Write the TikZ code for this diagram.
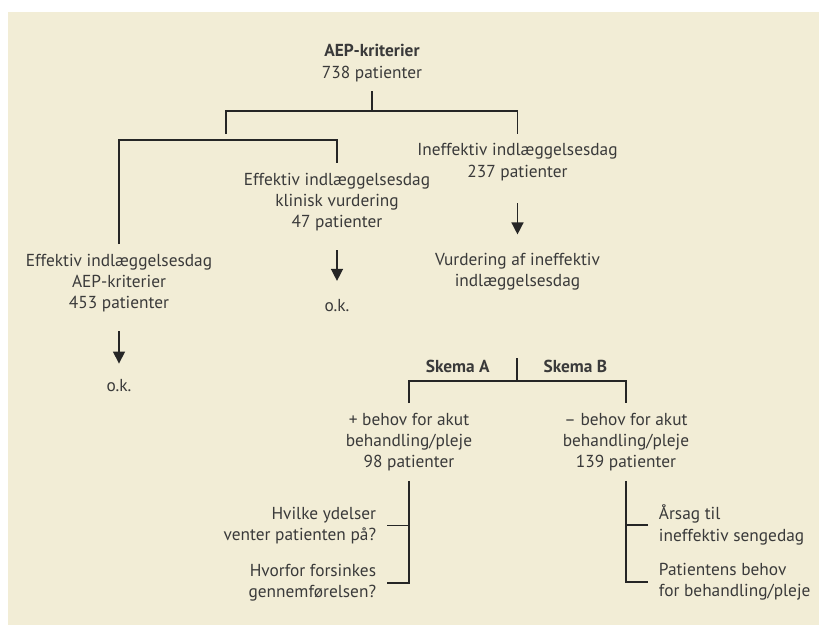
\documentclass[tikz,border=0pt]{standalone}
\usepackage{fontspec}
\setmainfont{PT Sans}
\usepackage{xcolor}
\usetikzlibrary{arrows.meta}
\definecolor{panel}{HTML}{F2EDD6}
\definecolor{ink}{HTML}{3A3A3A}

\begin{document}
\begin{tikzpicture}[x=0.75pt,y=-0.75pt,
  font=\fontsize{13}{16}\selectfont, text=ink,
  txt/.style={align=center,inner xsep=2pt,inner ysep=7pt},
  hd/.style={font=\fontsize{13}{16}\selectfont\bfseries},
  qr/.style={align=right,inner xsep=8pt,inner ysep=2pt,anchor=east},
  ql/.style={align=left,inner xsep=8pt,inner ysep=2pt,anchor=west},
  ln/.style={line width=1.1pt,draw=black!85},
  arr/.style={ln,-{Triangle[width=9pt,length=9pt]}}]
\useasboundingbox (0,0) rectangle (819,625);
\fill[panel] (8,12) rectangle (819,625);
\node[txt] (aep) at (372,63) {\textbf{AEP-kriterier}\\738 patienter};
\node[txt] (eff) at (119,283) {Effektiv indlæggelsesdag\\AEP-kriterier\\453 patienter};
\node[txt] (klin) at (337,202) {Effektiv indlæggelsesdag\\klinisk vurdering\\47 patienter};
\node[txt] (inef) at (517.5,162) {Ineffektiv indlæggelsesdag\\237 patienter};
\node[txt] (vurd) at (517.5,272) {Vurdering af ineffektiv\\indlæggelsesdag};
\node[txt] (okl) at (119,386) {o.k.};
\node[txt] (okm) at (337,306) {o.k.};
\node[txt,hd] (ska) at (457.7,366) {Skema A};
\node[txt,hd] (skb) at (575.3,366) {Skema B};
\node[txt] (plus) at (409,442) {+ behov for akut\\behandling/pleje\\98 patienter};
\node[txt] (minus) at (626,442) {– behov for akut\\behandling/pleje\\139 patienter};
\node[qr] (q1) at (387,525.5) {Hvilke ydelser\\venter patienten på?};
\node[qr] (q2) at (387,583) {Hvorfor forsinkes\\gennemførelsen?};
\node[ql] (r1) at (648,525) {Årsag til\\ineffektiv sengedag};
\node[ql] (r2) at (648,582) {Patientens behov\\for behandling/pleje};
\coordinate (j1) at (372,111);
\coordinate (b1) at (226,134);
\coordinate (j2) at (226,140);
\coordinate (sd) at (517,358);
\coordinate (j3) at (517,381);
\draw[ln] (aep) -- (j1);
\draw[ln] (b1) |- (j1) -| (inef);
\draw[ln] (eff) |- (j2) -| (klin);
\draw[ln] (sd) -- (j3);
\draw[ln] (plus) |- (j3) -| (minus);
\draw[ln] (plus) |- (q2);
\draw[ln] (q1) -- (q1 -| plus);
\draw[ln] (minus) |- (r2);
\draw[ln] (r1) -- (r1 -| minus);
\draw[arr,shorten <=7pt,shorten >=5pt] (eff) -- (okl);
\draw[arr,shorten <=7pt,shorten >=7pt] (klin) -- (okm);
\draw[arr,shorten <=10pt,shorten >=7pt] (inef) -- (vurd);
\end{tikzpicture}
\end{document}
